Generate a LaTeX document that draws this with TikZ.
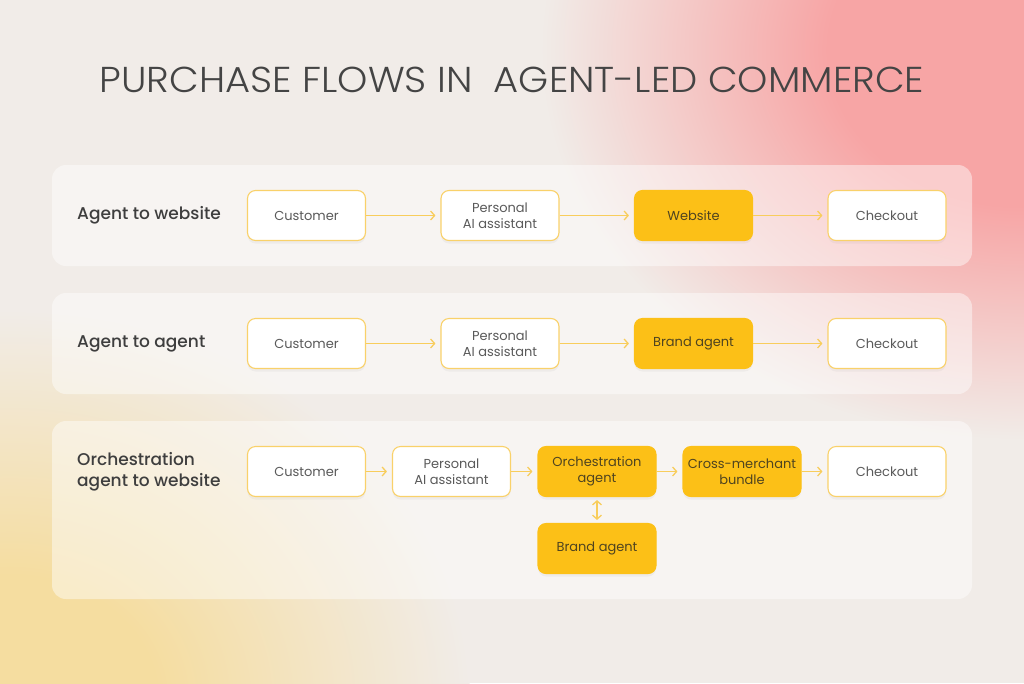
\documentclass[tikz,border=0pt]{standalone}
\usepackage{fontspec}
\setmainfont{Poppins}
\newfontfamily\titlefont{Poppins Light}[FakeStretch=1.07]
\newfontfamily\lblfont{Poppins Medium}
\usetikzlibrary{arrows.meta,shadows}
\definecolor{bgc}{HTML}{F1ECE8}
\definecolor{pinkc}{HTML}{F7A5A5}
\definecolor{ylwbg}{HTML}{F5DDA0}
\definecolor{borderc}{HTML}{F9D16A}
\definecolor{yellowc}{HTML}{FCC017}
\definecolor{arrowc}{HTML}{F8CD5C}
\definecolor{boxtext}{HTML}{5A5A5A}
\definecolor{ytext}{HTML}{4F4420}
\definecolor{lbltext}{HTML}{3E3E3E}
\definecolor{titletext}{HTML}{444444}
\pgfdeclareradialshading{pinkglow}{\pgfpoint{0bp}{0bp}}{color(0bp)=(pinkc);color(10bp)=(pinkc);color(25bp)=(bgc);color(50bp)=(bgc)}
\pgfdeclareradialshading{yellowglow}{\pgfpoint{0bp}{0bp}}{color(0bp)=(ylwbg);color(8bp)=(ylwbg);color(25bp)=(bgc);color(50bp)=(bgc)}
\begin{document}
\begin{tikzpicture}[x=1pt,y=-1pt,
  panel/.style={fill=white, fill opacity=0.45, rounded corners=14pt},
  wbox/.style={draw=borderc, line width=1.1pt, fill=white, rounded corners=8pt,
    minimum width=118pt, minimum height=50pt, inner sep=0pt, text=boxtext,
    font=\fontsize{13}{16}\selectfont, align=center,
    drop shadow={opacity=0.07, shadow xshift=0pt, shadow yshift=-3pt}},
  ybox/.style={wbox, fill=yellowc, draw=yellowc, text=ytext},
  lbl/.style={anchor=west, align=left, text=lbltext, inner sep=0pt,
    font=\lblfont\fontsize{17}{21}\selectfont},
  flow/.style={draw=arrowc, line width=1.3pt, -{Straight Barb[length=4pt,width=9pt]}, shorten >=5pt},
  dflow/.style={draw=arrowc, line width=1.3pt, {Straight Barb[length=4pt,width=9pt]}-{Straight Barb[length=4pt,width=9pt]}, shorten >=3pt, shorten <=3pt}
]
\useasboundingbox (0,0) rectangle (1024,683);
\fill[bgc] (0,0) rectangle (1024,683);
\begin{scope}
  \clip (0,0) rectangle (1024,683);
  \shade[shading=pinkglow] (1020,50) ellipse (480 and 390);
  \shade[shading=yellowglow] (10,700) ellipse (460 and 390);
\end{scope}

\node[font=\titlefont\fontsize{36}{40}\selectfont, text=titletext] (title) at (512,80) {PURCHASE FLOWS IN\ \ AGENT-LED COMMERCE};

\fill[panel] (52,165) rectangle (972,266);
\fill[panel] (52,293) rectangle (972,394);
\fill[panel] (52,421) rectangle (972,599);

% Row 1
\node[lbl] (l1) at (77,215.5) {Agent to website};
\node[wbox] (a1) at (306.5,215.5) {Customer};
\node[wbox] (a2) at (500,215.5) {Personal\\AI assistant};
\node[ybox] (a3) at (693.5,215.5) {Website};
\node[wbox] (a4) at (887,215.5) {Checkout};
\draw[flow] (a1) -- (a2);
\draw[flow] (a2) -- (a3);
\draw[flow] (a3) -- (a4);

% Row 2
\node[lbl] (l2) at (77,343.5) {Agent to agent};
\node[wbox] (b1) at (306.5,343.5) {Customer};
\node[wbox] (b2) at (500,343.5) {Personal\\AI assistant};
\node[ybox] (b3) at (693.5,343.5) {Brand agent};
\node[wbox] (b4) at (887,343.5) {Checkout};
\draw[flow] (b1) -- (b2);
\draw[flow] (b2) -- (b3);
\draw[flow] (b3) -- (b4);

% Row 3
\node[lbl] (l3) at (77,472) {Orchestration\\agent to website};
\node[wbox] (c1) at (306.5,471.5) {Customer};
\node[wbox] (c2) at (451.5,471.5) {Personal\\AI assistant};
\node[ybox] (c3) at (597,471.5) {Orchestration\\agent};
\node[ybox] (c4) at (742,471.5) {Cross-merchant\\bundle};
\node[wbox] (c5) at (887,471.5) {Checkout};
\node[ybox] (c6) at (597,548.5) {Brand agent};
\draw[flow] (c1) -- (c2);
\draw[flow] (c2) -- (c3);
\draw[flow] (c3) -- (c4);
\draw[flow] (c4) -- (c5);
\draw[dflow] (c3) -- (c6);
\end{tikzpicture}
\end{document}
